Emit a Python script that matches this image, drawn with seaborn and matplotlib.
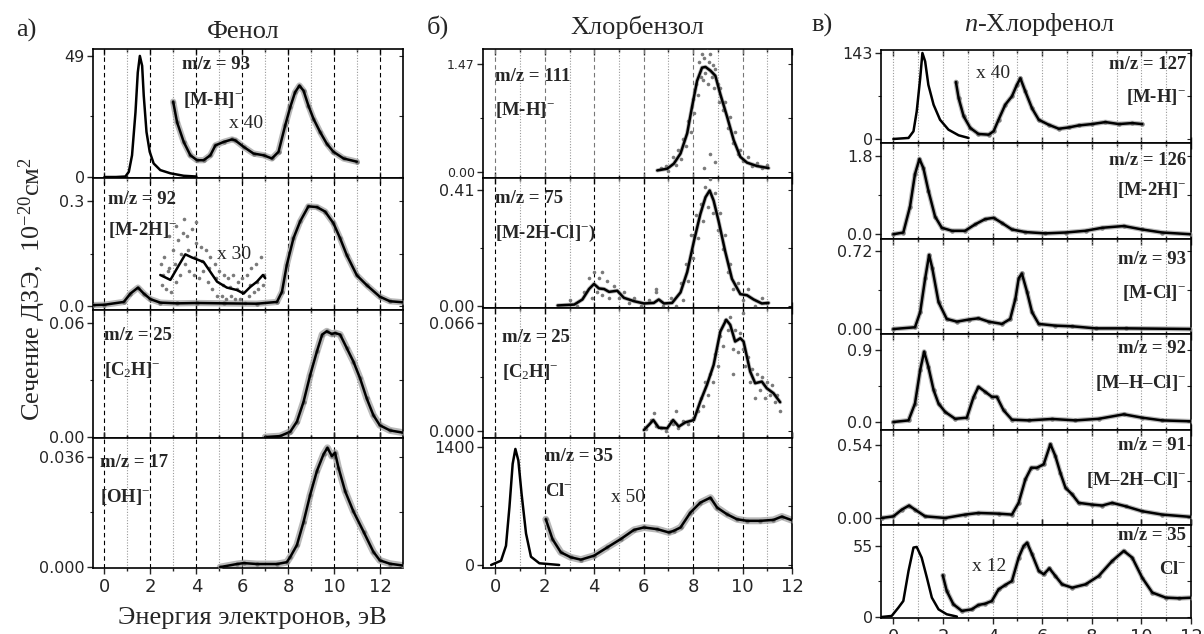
import matplotlib
matplotlib.use("Agg")
import matplotlib.pyplot as plt
from matplotlib.ticker import FixedLocator
import seaborn as sns

# ---- a) Phenol ----
a1_peak_x = [0.0, 0.5, 0.91, 1.06, 1.20, 1.35, 1.45, 1.54, 1.64, 1.71, 1.83, 1.97, 2.14, 2.43, 2.87, 3.45, 4.0]
a1_peak_y = [0.0, 0.0, 0.2, 2.1, 8.8, 26.2, 42.3, 49.0, 45.0, 32.9, 18.2, 10.2, 5.5, 2.8, 1.5, 0.5, 0.2]
a1_x40_x = [2.99, 3.16, 3.45, 3.74, 4.03, 4.32, 4.61, 4.83, 5.19, 5.55, 5.70, 6.06, 6.49, 6.93, 7.29, 7.58,
            7.87, 8.09, 8.30, 8.49, 8.67, 8.88, 9.10, 9.39, 9.68, 9.97, 10.41, 10.99]
a1_x40_y = [30.5, 22.2, 14.2, 8.8, 6.8, 6.8, 8.8, 12.8, 14.2, 15.2, 14.8, 12.2, 9.5, 8.8, 7.5, 10.2,
            20.9, 28.3, 34.3, 37.0, 34.9, 28.9, 23.6, 18.2, 13.5, 10.2, 7.5, 6.2]

a2_main_x = [-0.5, 0.0, 0.84, 1.13, 1.46, 1.71, 2.0, 2.43, 3.16, 4.03, 5.19, 6.64, 7.51, 7.73, 7.94, 8.23,
             8.52, 8.88, 9.25, 9.61, 9.97, 10.26, 10.55, 10.99, 11.42, 11.99, 12.43, 13.0]
a2_main_y = [0.003, 0.004, 0.012, 0.036, 0.053, 0.036, 0.02, 0.01, 0.008, 0.009, 0.008, 0.007, 0.012, 0.041,
             0.118, 0.194, 0.242, 0.285, 0.283, 0.270, 0.237, 0.194, 0.146, 0.088, 0.06, 0.027, 0.014, 0.011]
a2_x30_x = [2.43, 2.87, 3.16, 3.52, 3.81, 4.32, 4.61, 4.90, 5.33, 5.77, 6.06, 6.35, 6.64, 6.90, 7.0]
a2_x30_y = [0.089, 0.075, 0.108, 0.148, 0.139, 0.126, 0.098, 0.070, 0.053, 0.046, 0.036, 0.055, 0.070, 0.089, 0.08]
a2_cloud_x = [2.45, 2.5, 2.6, 2.7, 2.8, 2.9, 3.0, 3.1, 3.2, 3.3, 3.4, 3.5, 3.6, 3.7, 3.8, 3.9, 4.0, 4.1, 4.2,
              4.3, 4.4, 4.5, 4.6, 4.7, 4.8, 4.9, 5.0, 5.1, 5.2, 5.3, 5.4, 5.5, 5.6, 5.7, 5.8, 5.9, 6.0, 6.1,
              6.2, 6.3, 6.4, 6.5, 6.6, 6.7, 6.8, 6.9, 2.55, 2.75, 3.05, 3.35, 3.65, 3.95, 4.25, 4.55, 4.85,
              5.15, 5.45, 5.75, 6.05, 6.35, 6.65, 6.95, 3.45, 4.0, 3.1, 2.8]
a2_cloud_y = [0.12, 0.06, 0.14, 0.05, 0.11, 0.04, 0.16, 0.07, 0.19, 0.09, 0.21, 0.12, 0.20, 0.10, 0.22, 0.09,
              0.18, 0.08, 0.17, 0.10, 0.16, 0.07, 0.14, 0.05, 0.12, 0.03, 0.10, 0.03, 0.09, 0.02, 0.08, 0.03,
              0.09, 0.02, 0.07, 0.02, 0.08, 0.01, 0.09, 0.03, 0.11, 0.04, 0.12, 0.05, 0.14, 0.06, 0.09, 0.10,
              0.12, 0.15, 0.16, 0.14, 0.13, 0.11, 0.08, 0.06, 0.055, 0.05, 0.04, 0.06, 0.07, 0.09, 0.25,
              0.24, 0.23, 0.20]

a3_x = [7.0, 7.65, 8.09, 8.38, 8.67, 8.96, 9.25, 9.48, 9.68, 9.90, 10.04, 10.26, 10.55, 10.84, 11.13, 11.42,
        11.71, 11.99, 12.43, 13.0]
a3_y = [0.0, 0.0005, 0.0028, 0.0081, 0.0186, 0.0327, 0.0450, 0.0539, 0.0556, 0.0542, 0.0547, 0.0539, 0.0468,
        0.0397, 0.0309, 0.0203, 0.0115, 0.0062, 0.0035, 0.0023]

a4_x = [5.04, 5.77, 6.06, 6.64, 7.51, 7.94, 8.09, 8.38, 8.67, 8.96, 9.25, 9.54, 9.71, 9.90, 10.04, 10.19,
        10.48, 10.84, 11.28, 11.71, 11.99, 12.43, 13.0]
a4_y = [0.0, 0.001, 0.0013, 0.001, 0.001, 0.0016, 0.0033, 0.0072, 0.0148, 0.0237, 0.0314, 0.0369, 0.039,
        0.0363, 0.0374, 0.0325, 0.0248, 0.0182, 0.0116, 0.005, 0.0022, 0.0011, 0.0005]

# ---- b) Chlorobenzene ----
b1_x = [6.55, 6.95, 7.22, 7.49, 7.76, 7.96, 8.16, 8.36, 8.50, 8.70, 8.90, 9.10, 9.37, 9.64, 9.91, 10.18, 10.58, 11.05]
b1_y = [0.023, 0.046, 0.115, 0.253, 0.528, 0.895, 1.24, 1.42, 1.43, 1.38, 1.31, 1.06, 0.758, 0.436, 0.207,
        0.129, 0.083, 0.055]
b1_cloud_x = [6.7, 6.9, 7.0, 7.2, 7.3, 7.4, 7.5, 7.6, 7.7, 7.8, 7.9, 8.0, 8.05, 8.1, 8.2, 8.25, 8.3, 8.35, 8.4,
              8.45, 8.5, 8.55, 8.6, 8.65, 8.7, 8.75, 8.8, 8.85, 8.9, 9.0, 9.05, 9.1, 9.2, 9.3, 9.4, 9.5, 9.6,
              9.7, 9.8, 9.9, 10.0, 10.2, 10.4, 10.6, 10.8, 11.0, 8.7, 8.43, 8.9, 8.56]
b1_cloud_y = [0.05, 0.08, 0.02, 0.20, 0.10, 0.30, 0.18, 0.45, 0.35, 0.70, 0.55, 1.00, 0.80, 1.20, 1.05, 1.50,
              1.30, 1.60, 1.25, 1.55, 1.35, 1.70, 1.20, 1.50, 1.60, 1.30, 1.45, 1.15, 1.40, 1.20, 0.95, 1.15,
              0.85, 0.95, 0.60, 0.75, 0.40, 0.55, 0.25, 0.30, 0.15, 0.20, 0.08, 0.12, 0.05, 0.09, 0.25, 0.05,
              0.14, 1.74]

b2_x = [2.52, 3.19, 3.52, 3.79, 3.99, 4.19, 4.40, 4.60, 4.93, 5.20, 5.61, 6.01, 6.41, 6.61, 6.82, 7.15, 7.49,
        7.76, 8.03, 8.29, 8.50, 8.67, 8.83, 9.03, 9.30, 9.57, 9.91, 10.18, 10.45, 10.78, 11.05]
b2_y = [0.002, 0.005, 0.023, 0.060, 0.078, 0.062, 0.060, 0.050, 0.054, 0.029, 0.017, 0.009, 0.011, 0.023,
        0.009, 0.011, 0.048, 0.120, 0.228, 0.324, 0.384, 0.408, 0.372, 0.300, 0.192, 0.096, 0.042, 0.038,
        0.023, 0.009, 0.011]
b2_cloud_x = [3.0, 3.3, 3.6, 3.8, 3.9, 4.0, 4.1, 4.2, 4.3, 4.5, 4.6, 4.8, 5.0, 5.2, 5.4, 5.6, 5.9, 6.2, 6.5,
              6.8, 7.1, 7.3, 7.5, 7.6, 7.7, 7.8, 7.9, 8.0, 8.1, 8.2, 8.3, 8.4, 8.5, 8.6, 8.7, 8.8, 8.9, 9.0,
              9.1, 9.2, 9.3, 9.4, 9.5, 9.6, 9.8, 10.0, 10.2, 10.5, 10.8, 11.0, 4.3, 8.55, 8.65, 6.5]
b2_cloud_y = [0.02, 0.0, 0.05, 0.10, 0.03, 0.12, 0.05, 0.10, 0.04, 0.09, 0.03, 0.07, 0.03, 0.05, 0.01, 0.03,
              0.0, 0.02, 0.05, 0.0, 0.03, 0.0, 0.08, 0.02, 0.15, 0.09, 0.25, 0.17, 0.32, 0.24, 0.36, 0.30,
              0.42, 0.35, 0.45, 0.33, 0.40, 0.27, 0.33, 0.20, 0.25, 0.12, 0.15, 0.06, 0.08, 0.02, 0.06, 0.0,
              0.03, 0.01, 0.12, 0.48, 0.47, 0.06]

b3_x = [6.01, 6.21, 6.39, 6.61, 6.95, 7.19, 7.42, 7.69, 8.03, 8.29, 8.56, 8.83, 9.10, 9.34, 9.50, 9.70, 9.91,
        10.04, 10.31, 10.51, 10.78, 10.98, 11.25, 11.52]
b3_y = [0.0006, 0.0037, 0.0067, 0.002, 0.0016, 0.0067, 0.0027, 0.0053, 0.0067, 0.0180, 0.0282, 0.0404,
        0.0608, 0.068, 0.0649, 0.0547, 0.0567, 0.0547, 0.0363, 0.0292, 0.0302, 0.0261, 0.0231, 0.0176]
b3_cloud_x = [6.1, 6.3, 6.4, 6.5, 6.7, 6.9, 7.1, 7.2, 7.4, 7.6, 7.8, 8.0, 8.2, 8.3, 8.4, 8.5, 8.6, 8.7, 8.8,
              8.9, 9.0, 9.1, 9.2, 9.3, 9.4, 9.5, 9.6, 9.7, 9.8, 9.9, 10.0, 10.1, 10.2, 10.3, 10.4, 10.5, 10.6,
              10.7, 10.8, 10.9, 11.0, 11.1, 11.2, 11.3, 11.4, 11.5, 7.3, 10.0, 9.6]
b3_cloud_y = [0.001, 0.007, 0.011, 0.003, 0.002, 0.0, 0.006, 0.004, 0.002, 0.006, 0.004, 0.008, 0.012, 0.020,
              0.015, 0.030, 0.022, 0.035, 0.030, 0.047, 0.040, 0.058, 0.052, 0.068, 0.062, 0.070, 0.050,
              0.062, 0.048, 0.060, 0.050, 0.040, 0.045, 0.030, 0.038, 0.020, 0.035, 0.025, 0.033, 0.020,
              0.030, 0.022, 0.028, 0.018, 0.022, 0.012, 0.012, 0.072, 0.035]

b4_peak_x = [-0.17, 0.23, 0.43, 0.57, 0.70, 0.81, 0.93, 1.06, 1.24, 1.44, 1.78, 2.58]
b4_peak_y = [0, 51, 228, 689, 1200, 1377, 1240, 846, 374, 98, 20, 0]
b4_x50_x = [2.04, 2.31, 2.65, 3.05, 3.46, 3.99, 4.53, 5.07, 5.61, 6.01, 6.55, 7.02, 7.22, 7.49, 7.89, 8.29,
            8.70, 8.97, 9.37, 9.77, 10.18, 10.72, 11.25, 11.59, 12.06]
b4_x50_y = [543, 307, 150, 91, 63, 110, 209, 307, 417, 445, 425, 386, 406, 445, 622, 740, 799, 681, 602,
            543, 524, 524, 535, 575, 524]

# ---- c) p-Chlorophenol ----
c1_peak_x = [0.0, 0.61, 0.81, 0.94, 1.08, 1.17, 1.28, 1.41, 1.62, 1.88, 2.22, 2.63, 3.03]
c1_peak_y = [0, 1.7, 12.8, 45.9, 101, 143, 129, 90, 57, 32, 15.5, 6.1, 1.7]
c1_x40_x = [2.52, 2.63, 2.83, 3.10, 3.43, 3.84, 4.04, 4.24, 4.51, 4.78, 4.98, 5.12, 5.32, 5.59, 5.86, 6.26,
            6.67, 7.07, 7.47, 8.01, 8.55, 9.09, 9.63, 10.03]
c1_x40_y = [94.8, 68, 38, 18.3, 8.3, 7.2, 12.8, 32, 57, 71, 90, 101, 79, 51, 32, 23.7, 17, 19.2, 22.5,
            24.8, 28.1, 24.8, 26.4, 24.8]

c2_x = [0.0, 0.40, 0.67, 0.87, 1.05, 1.21, 1.41, 1.68, 1.95, 2.36, 2.89, 3.30, 3.70, 4.04, 4.38, 4.78, 5.32,
        6.13, 6.94, 7.75, 8.42, 9.29, 10.03, 10.84, 11.98]
c2_y = [0, 0.04, 0.64, 1.39, 1.74, 1.53, 1.01, 0.41, 0.15, 0.08, 0.08, 0.23, 0.35, 0.38, 0.26, 0.11, 0.05,
        0.02, 0.04, 0.08, 0.15, 0.19, 0.11, 0.04, 0.0]

c3_x = [0.0, 0.87, 1.08, 1.28, 1.44, 1.57, 1.82, 2.15, 2.56, 3.03, 3.43, 3.84, 4.38, 4.71, 4.92, 5.05, 5.18,
        5.39, 5.59, 5.86, 6.53, 7.21, 8.15, 9.36, 11.98]
c3_y = [0, 0.016, 0.155, 0.466, 0.683, 0.559, 0.248, 0.093, 0.068, 0.087, 0.099, 0.068, 0.047, 0.093, 0.279,
        0.466, 0.512, 0.341, 0.155, 0.047, 0.031, 0.025, 0.006, 0.006, 0.0]

c4_x = [0.0, 0.61, 0.87, 1.08, 1.24, 1.41, 1.62, 1.82, 2.09, 2.49, 2.96, 3.23, 3.43, 3.70, 3.97, 4.17, 4.44,
        4.78, 5.45, 6.40, 7.34, 8.28, 9.29, 10.03, 10.84, 12.05]
c4_y = [0, 0.02, 0.23, 0.65, 0.88, 0.69, 0.40, 0.23, 0.125, 0.04, 0.054, 0.31, 0.44, 0.378, 0.315, 0.315,
        0.147, 0.029, 0.02, 0.038, 0.02, 0.04, 0.096, 0.054, 0.02, 0.008]

c5_x = [-0.47, 0.0, 0.34, 0.63, 0.87, 1.28, 2.09, 2.89, 3.43, 4.24, 4.78, 5.05, 5.32, 5.56, 5.79, 6.06, 6.33,
        6.53, 6.73, 6.94, 7.21, 7.47, 8.01, 8.42, 8.82, 9.36, 10.03, 10.84, 12.05]
c5_y = [0, 0.012, 0.062, 0.092, 0.062, 0.012, 0.0, 0.025, 0.037, 0.032, 0.025, 0.112, 0.285, 0.372, 0.372,
        0.397, 0.546, 0.459, 0.335, 0.223, 0.174, 0.112, 0.099, 0.092, 0.112, 0.087, 0.050, 0.025, 0.007]

c6_peak_x = [-0.47, -0.07, 0.20, 0.40, 0.61, 0.81, 0.94, 1.14, 1.35, 1.55, 1.82, 2.15, 2.56]
c6_peak_y = [0, 0.8, 7.2, 12.4, 35.7, 53.8, 54.3, 46, 30.5, 15, 5.9, 2.1, 0.3]
c6_x12_x = [1.99, 2.15, 2.42, 2.76, 3.16, 3.43, 3.70, 3.97, 4.24, 4.51, 4.78, 5.05, 5.25, 5.39, 5.59, 5.86,
            6.06, 6.29, 6.53, 6.80, 7.21, 7.75, 8.28, 8.82, 9.29, 9.63, 10.03, 10.44, 10.98, 11.52, 12.05]
c6_x12_y = [32.3, 20.2, 9.8, 4.7, 5.9, 9.3, 10.3, 12.4, 21.4, 24.8, 27.9, 46, 55, 57.6, 48.6, 35.7, 33.1,
            37.7, 31.8, 25.3, 22.7, 25.3, 31.8, 43.4, 51.2, 46, 30.5, 18.9, 15, 14.5, 15]

# tick labels for each panel (bottom, top)
a_ticks = [("0", "49"), ("0.0", "0.3"), ("0.00", "0.06"), ("0.000", "0.036")]
b_ticks = [("0.00", "1.47"), ("0.00", "0.41"), ("0.000", "0.066"), ("0", "1400")]
c_ticks = [("0", "143"), ("0.0", "1.8"), ("0.00", "0.72"), ("0.0", "0.9"), ("0.00", "0.54"), ("0", "55")]

sns.set_theme(style="white")
plt.rcParams["font.family"] = ["DejaVu Sans"]
plt.rcParams["mathtext.fontset"] = "custom"
plt.rcParams["mathtext.rm"] = "Liberation Serif"
plt.rcParams["mathtext.it"] = "Liberation Serif:italic"
plt.rcParams["mathtext.bf"] = "Liberation Serif:bold"
SERIF = ["Liberation Serif", "DejaVu Serif"]

W, H = 1204, 634
fig = plt.figure(figsize=(W / 100, H / 100), dpi=100)


def add_ax(left, right, top, bottom):
    return fig.add_axes([left / W, 1 - bottom / H, (right - left) / W, (bottom - top) / H])


def draw_curve(ax, x, y, band=0.0, dots=True):
    # grey band + dots stand in for the raw data points around the smoothed curve
    if band > 0:
        ax.plot(x, y, color="#9a9a9a", lw=band, alpha=0.7, solid_capstyle="round",
                solid_joinstyle="round", zorder=2)
        if dots:
            sns.scatterplot(x=x, y=y, ax=ax, color="#7a7a7a", s=10, linewidth=0, legend=False, zorder=3)
    sns.lineplot(x=x, y=y, ax=ax, color="black", linewidth=1.8, estimator=None, sort=False,
                 legend=False, zorder=4, solid_joinstyle="round")


def style_panel(ax, xmax, ylim, labels, grid, bottom, tsize=11.5, xsize=13):
    ax.set_xlim(-0.5, xmax)
    ax.set_ylim(*ylim)
    top = float(labels[1])
    ax.set_yticks([0, top])
    ax.set_yticklabels(list(labels), fontsize=tsize)
    ax.yaxis.set_minor_locator(FixedLocator([top / 2]))
    ax.tick_params(axis="y", which="major", direction="out", length=4, width=1, pad=2, left=True)
    ax.tick_params(axis="y", which="minor", direction="out", length=2.5, width=0.8, left=True)
    sec = ax.secondary_yaxis("right")
    sec.set_yticks([0, top], labels=["", ""])
    sec.yaxis.set_minor_locator(FixedLocator([top / 2]))
    sec.tick_params(which="both", direction="in", length=3, width=0.8)
    sec.spines["right"].set_visible(False)

    ax.set_xticks(range(0, 13, 2))
    ax.xaxis.set_minor_locator(FixedLocator(range(1, 12, 2)))
    ax.tick_params(axis="x", which="both", top=True, bottom=True, width=1,
                   direction="out" if bottom else "in", labelbottom=bottom, labelsize=xsize, pad=3)
    ax.tick_params(axis="x", which="major", length=4)
    ax.tick_params(axis="x", which="minor", length=2.5)
    for s in ax.spines.values():
        s.set_color("black")
        s.set_linewidth(1.2)

    for k in range(0, 13):
        if k > xmax:
            break
        if grid == "c" or k % 2 == 1:
            ax.axvline(k, color="#9a9a9a", lw=0.8, ls=(0, (1, 1.5)), zorder=1)
        else:
            col = "#777777" if grid == "b1" else "black"
            ax.axvline(k, color=col, lw=0.8, ls=(0, (4, 3)), zorder=1)


def label(ax, fx, fy, s, bold=True, size=13.5, ha="left"):
    ax.text(fx, fy, s, transform=ax.transAxes, family=SERIF, fontweight="bold" if bold else "normal",
            fontsize=size, ha=ha, va="center", zorder=6)


# ---------- column a ----------
a_rows = [49, 178, 310, 438, 568]
a_lims = [(-0.4, 51.8), (-0.011, 0.366), (-0.0005, 0.0668), (-0.0003, 0.0422)]
axa = [add_ax(93, 403, a_rows[i], a_rows[i + 1]) for i in range(4)]
for i, ax in enumerate(axa):
    style_panel(ax, 13, a_lims[i], a_ticks[i], "a", bottom=(i == 3))

draw_curve(axa[0], a1_peak_x, a1_peak_y)
draw_curve(axa[0], a1_x40_x, a1_x40_y, band=4.5)
label(axa[0], 0.287, 0.876, "m/z = 93")
label(axa[0], 0.29, 0.605, "[M-H]$^{-}$")
label(axa[0], 0.44, 0.426, "x 40", bold=False, size=14)

axa[1].plot(a2_cloud_x, a2_cloud_y, ls="none", marker="o", ms=2.6, mfc="#7a7a7a", mec="none", zorder=3)
draw_curve(axa[1], a2_main_x, a2_main_y, band=4.5)
draw_curve(axa[1], a2_x30_x, a2_x30_y)
label(axa[1], 0.048, 0.84, "m/z = 92")
label(axa[1], 0.048, 0.606, "[M-2H]$^{-}$")
label(axa[1], 0.40, 0.417, "x 30", bold=False, size=14)

draw_curve(axa[2], a3_x, a3_y, band=5)
label(axa[2], 0.035, 0.80, "m/z = 25")
label(axa[2], 0.035, 0.53, "[C$_2$H]$^{-}$")

draw_curve(axa[3], a4_x, a4_y, band=5)
label(axa[3], 0.023, 0.815, "m/z = 17")
label(axa[3], 0.023, 0.546, "[OH]$^{-}$")

# ---------- column b ----------
b_rows = [49, 178, 308, 438, 568]
b_lims = [(-0.08, 1.674), (-0.007, 0.452), (-0.0043, 0.0752), (-36, 1507)]
axb = [add_ax(483, 792, b_rows[i], b_rows[i + 1]) for i in range(4)]
for i, ax in enumerate(axb):
    style_panel(ax, 12, b_lims[i], b_ticks[i], "b1" if i == 0 else "b", bottom=(i == 3),
                tsize=9 if i == 0 else 11.5)

for ax, cx, cy, lx, ly in [(axb[0], b1_cloud_x, b1_cloud_y, b1_x, b1_y),
                           (axb[1], b2_cloud_x, b2_cloud_y, b2_x, b2_y),
                           (axb[2], b3_cloud_x, b3_cloud_y, b3_x, b3_y)]:
    ax.plot(cx, cy, ls="none", marker="o", ms=2.6, mfc="#7a7a7a", mec="none", zorder=3)
    draw_curve(ax, lx, ly, band=3, dots=False)
label(axb[0], 0.039, 0.79, "m/z = 111")
label(axb[0], 0.039, 0.527, "[M-H]$^{-}$")
label(axb[1], 0.039, 0.84, "m/z = 75")
label(axb[1], 0.039, 0.577, "[M-2H-Cl]$^{-}$)")
label(axb[2], 0.061, 0.77, "m/z = 25")
label(axb[2], 0.061, 0.51, "[C$_2$H]$^{-}$")

draw_curve(axb[3], b4_peak_x, b4_peak_y)
draw_curve(axb[3], b4_x50_x, b4_x50_y, band=5)
label(axb[3], 0.2, 0.854, "m/z = 35")
label(axb[3], 0.2, 0.585, "Cl$^{-}$")
label(axb[3], 0.415, 0.54, "x 50", bold=False, size=14)

# ---------- column c ----------
c_rows = [50, 143, 239, 334, 430, 525, 618]
c_lims = [(-6.7, 148), (-0.11, 2.11), (-0.046, 0.83), (-0.1, 1.1), (-0.052, 0.651), (-0.8, 71.3)]
axc = [add_ax(881, 1191, c_rows[i], c_rows[i + 1]) for i in range(6)]
for i, ax in enumerate(axc):
    style_panel(ax, 12, c_lims[i], c_ticks[i], "c", bottom=(i == 5))

draw_curve(axc[0], c1_peak_x, c1_peak_y)
draw_curve(axc[0], c1_x40_x, c1_x40_y, band=3.5)
draw_curve(axc[1], c2_x, c2_y, band=3.5)
draw_curve(axc[2], c3_x, c3_y, band=3.5)
draw_curve(axc[3], c4_x, c4_y, band=3.5)
draw_curve(axc[4], c5_x, c5_y, band=3.5)
draw_curve(axc[5], c6_peak_x, c6_peak_y)
draw_curve(axc[5], c6_x12_x, c6_x12_y, band=3.5)

c_texts = [("m/z = 127", "[M-H]$^{-}$", 0.84, 0.495), ("m/z = 126", "[M-2H]$^{-}$", 0.82, 0.51),
           ("m/z = 93", "[M-Cl]$^{-}$", 0.78, 0.43), ("m/z = 92", "[M–H–Cl]$^{-}$", 0.854, 0.49),
           ("m/z = 91", "[M–2H–Cl]$^{-}$", 0.84, 0.47), ("m/z = 35", "Cl$^{-}$", 0.89, 0.52)]
for ax, (t1, t2, y1, y2) in zip(axc, c_texts):
    label(ax, 0.985, y1, t1, ha="right")
    label(ax, 0.985, y2, t2, ha="right")
label(axc[0], 0.36, 0.75, "x 40", bold=False, size=14, ha="center")
label(axc[5], 0.35, 0.55, "x 12", bold=False, size=14, ha="center")

# ---------- titles and axis labels ----------
fig.text(26 / W, 1 - 30 / H, "а)", family=SERIF, fontsize=19, ha="center", va="center")
fig.text(243 / W, 1 - 32 / H, "Фенол", family=SERIF, fontsize=19, ha="center", va="center")
fig.text(438 / W, 1 - 27 / H, "б)", family=SERIF, fontsize=19, ha="center", va="center")
fig.text(637 / W, 1 - 27 / H, "Хлорбензол", family=SERIF, fontsize=19, ha="center", va="center")
fig.text(822 / W, 1 - 25 / H, "в)", family=SERIF, fontsize=19, ha="center", va="center")
fig.text(1040 / W, 1 - 25 / H, "$n$-Хлорфенол", family=SERIF, fontsize=19, ha="center", va="center")
fig.text(252 / W, 1 - 618 / H, "Энергия электронов, эВ", family=SERIF, fontsize=19, ha="center", va="center")
fig.text(32 / W, 1 - 289 / H, "Сечение ДЗЭ,  10$^{-20}$см$^{2}$", family=SERIF, fontsize=19,
         rotation=90, ha="center", va="center")

fig.savefig("out.png", dpi=100)
